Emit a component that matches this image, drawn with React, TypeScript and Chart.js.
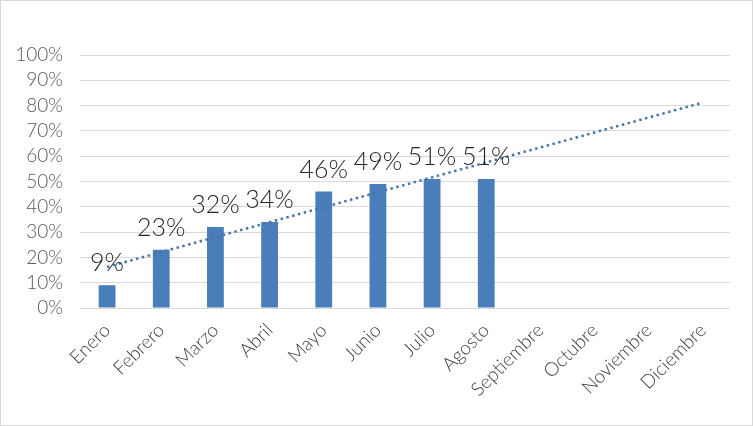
import React, { useEffect, useRef } from "react";
import { Chart, registerables } from "chart.js";

Chart.register(...registerables);

const months = [
  "Enero", "Febrero", "Marzo", "Abril", "Mayo", "Junio",
  "Julio", "Agosto", "Septiembre", "Octubre", "Noviembre", "Diciembre",
];
const values = [9, 23, 32, 34, 46, 49, 51, 51, null, null, null, null];
const valueLabels = ["9%", "23%", "32%", "34%", "46%", "49%", "51%", "51%"];
const trendStart = 16.2;
const trendEnd = 81.2;
const yTicks = [0, 10, 20, 30, 40, 50, 60, 70, 80, 90, 100];

const FONT = "Lato";

const labelPlugin = {
  id: "barLabels",
  afterDatasetsDraw(chart: any) {
    const meta = chart.getDatasetMeta(0);
    const ctx = chart.ctx;
    ctx.save();
    ctx.font = `300 25px ${FONT}`;
    ctx.fillStyle = "#262626";
    ctx.textAlign = "center";
    ctx.textBaseline = "alphabetic";
    meta.data.forEach((bar: any, i: number) => {
      if (values[i] == null) return;
      ctx.fillText(valueLabels[i], bar.x, bar.y - 14);
    });
    ctx.restore();
  },
};

export default function App() {
  const ref = useRef<HTMLCanvasElement>(null);
  useEffect(() => {
    document.body.style.margin = "0";
    const chart = new Chart(ref.current!, {
      type: "bar",
      data: {
        labels: months,
        datasets: [
          {
            type: "bar",
            data: values as any,
            backgroundColor: "#4a7ebb",
            barPercentage: 0.62,
            categoryPercentage: 0.5,
            order: 2,
          },
          {
            type: "line",
            data: [
              { x: months[0], y: trendStart },
              { x: months[11], y: trendEnd },
            ] as any,
            borderColor: "#4a73ab",
            borderWidth: 2.5,
            borderDash: [2.5, 3.5],
            pointRadius: 0,
            fill: false,
            order: 1,
          },
        ],
      },
      options: {
        responsive: false,
        animation: false,
        layout: { padding: { top: 54, right: 22, left: 0, bottom: 0 } },
        plugins: { legend: { display: false }, tooltip: { enabled: false } },
        scales: {
          x: {
            grid: { display: false },
            border: { display: false },
            ticks: {
              color: "#404040",
              font: { family: FONT, size: 19, weight: "300" as any },
              maxRotation: 45,
              minRotation: 45,
              autoSkip: false,
              padding: 3,
            },
            afterFit(scale: any) {
              scale.height = 117;
            },
          },
          y: {
            min: 0,
            max: 100,
            grid: { color: "#d9d9d9", drawTicks: false, lineWidth: 1 },
            border: { display: false },
            afterBuildTicks(scale: any) {
              scale.ticks = yTicks.map((v) => ({ value: v }));
            },
            ticks: {
              color: "#595959",
              font: { family: FONT, size: 19, weight: "300" as any },
              padding: 17,
              autoSkip: false,
              callback: (v: any) => `${v}%`,
            },
            afterFit(scale: any) {
              scale.width = 79;
            },
          },
        },
      },
      plugins: [labelPlugin],
    });
    return () => chart.destroy();
  }, []);
  return (
    <div
      style={{
        width: 751,
        height: 424,
        border: "1px solid #d9d9d9",
        background: "#fff",
      }}
    >
      <canvas ref={ref} width={751} height={424} style={{ display: "block" }} />
    </div>
  );
}
